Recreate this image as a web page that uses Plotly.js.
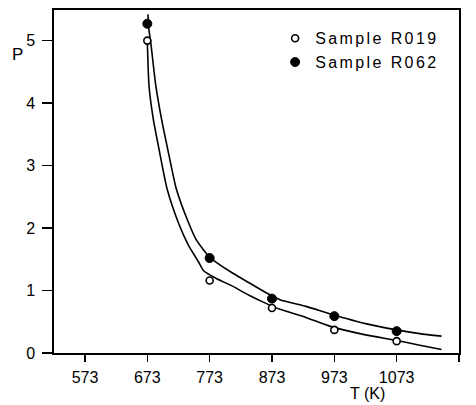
<!DOCTYPE html>
<html>
<head>
<meta charset="utf-8">
<script src="https://cdn.plot.ly/plotly-3.0.1.min.js"></script>
<style>
  html, body { margin: 0; padding: 0; background: #fff; }
  #chart { width: 476px; height: 405px; }
  .legendtext { letter-spacing: 2.4px; }
</style>
</head>
<body>
<div id="chart"></div>
<script>
// Measured data points
const temps = [673, 773, 873, 973, 1073];
const pR019 = [5.00, 1.16, 0.72, 0.37, 0.19];
const pR062 = [5.27, 1.52, 0.87, 0.59, 0.35];

// Fitted curves
const curveR062T = [674, 675.5, 678.4, 686.6, 695.9, 705.8, 719.7, 739.3, 751.6, 773, 779.6, 809.6, 836.9, 864.3, 885.7, 927.3, 967, 1023, 1073, 1110, 1145];
const curveR062P = [5.42, 5.18, 4.98, 4.28, 3.74, 3.26, 2.62, 2.08, 1.81, 1.53, 1.48, 1.28, 1.12, 0.96, 0.853, 0.746, 0.625, 0.47, 0.37, 0.31, 0.27];
const curveR019T = [673, 675.8, 682.8, 691.8, 704.9, 723, 738.6, 755, 763, 782.3, 809.6, 836.9, 864.3, 885.7, 927.3, 965.5, 1023, 1073, 1110, 1145];
const curveR019P = [4.99, 4.27, 3.73, 3.26, 2.62, 2.08, 1.73, 1.46, 1.32, 1.20, 1.07, 0.92, 0.79, 0.70, 0.57, 0.43, 0.29, 0.20, 0.125, 0.055];

const xTicks = [573, 673, 773, 873, 973, 1073, 1173];
const yTicks = [0, 1, 2, 3, 4, 5];

const FONT = 'Liberation Sans, Arial, sans-serif';

const traces = [
  {x: curveR062T, y: curveR062P, mode: 'lines', line: {color: '#000', width: 1.6, shape: 'spline', smoothing: 0.6}, showlegend: false, hoverinfo: 'skip'},
  {x: curveR019T, y: curveR019P, mode: 'lines', line: {color: '#000', width: 1.6, shape: 'spline', smoothing: 0.6}, showlegend: false, hoverinfo: 'skip'},
  {x: temps, y: pR019, mode: 'markers', name: 'Sample R019',
   marker: {symbol: 'circle', size: 7, color: '#fff', line: {color: '#000', width: 1.6}}},
  {x: temps, y: pR062, mode: 'markers', name: 'Sample R062',
   marker: {symbol: 'circle', size: 9, color: '#000', line: {color: '#000', width: 1}}}
];

const layout = {
  width: 476, height: 405,
  margin: {l: 54, r: 17, t: 10, b: 52},
  paper_bgcolor: '#fff', plot_bgcolor: '#fff',
  font: {family: FONT, size: 16, color: '#000'},
  showlegend: true,
  legend: {x: 0.546, y: 0.967, xanchor: 'left', yanchor: 'top', bgcolor: 'rgba(0,0,0,0)',
           font: {family: FONT, size: 16, color: '#000'}, tracegroupgap: 0, itemwidth: 30},
  xaxis: {range: [523.3, 1173], tickvals: xTicks, ticktext: xTicks.map(String),
          showgrid: false, zeroline: false, showline: true, linecolor: '#000', linewidth: 1.6,
          mirror: true, ticks: 'outside', ticklen: 7, tickwidth: 1.4, tickcolor: '#000',
          ticklabelstandoff: 2, tickfont: {family: FONT, size: 16}},
  yaxis: {range: [0, 5.49], tickvals: yTicks, ticktext: yTicks.map(String),
          showgrid: false, zeroline: false, showline: true, linecolor: '#000', linewidth: 1.6,
          mirror: true, ticks: 'outside', ticklen: 10, tickwidth: 1.4, tickcolor: '#000',
          ticklabelstandoff: 4, tickfont: {family: FONT, size: 16}},
  annotations: [
    {text: 'P', xref: 'paper', yref: 'paper', x: -0.091, y: 0.869, showarrow: false,
     font: {family: FONT, size: 17}, xanchor: 'center', yanchor: 'middle'},
    {text: 'T (K)', xref: 'paper', yref: 'paper', x: 0.773, y: -0.117, showarrow: false,
     font: {family: FONT, size: 16}, xanchor: 'center', yanchor: 'middle'}
  ]
};

Plotly.newPlot('chart', traces, layout, {displayModeBar: false, staticPlot: true});
</script>
</body>
</html>
